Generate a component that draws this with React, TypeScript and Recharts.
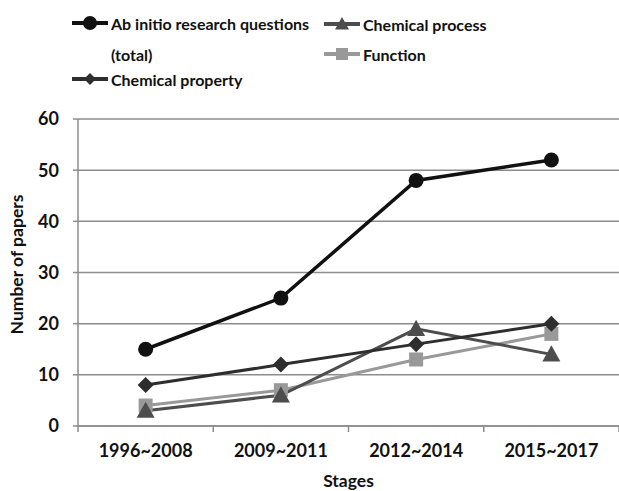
import React from 'react';
import { LineChart, Line, XAxis, YAxis, CartesianGrid, Legend } from 'recharts';

const stages = ['1996~2008', '2009~2011', '2012~2014', '2015~2017'];
const totalQuestions = [15, 25, 48, 52];
const chemicalProperty = [8, 12, 16, 20];
const chemicalProcess = [3, 6, 19, 14];
const functionSeries = [4, 7, 13, 18];
const yTicks = [0, 10, 20, 30, 40, 50, 60];

const data = stages.map((s, i) => ({
  pos: i + 0.5,
  stage: s,
  total: totalQuestions[i],
  property: chemicalProperty[i],
  process: chemicalProcess[i],
  func: functionSeries[i],
}));

const FONT = 'Lato, "Open Sans", sans-serif';
const GRID = '#8c8c8c';

const C_TOTAL = '#111111';
const C_PROP = '#2e2e2e';
const C_PROC = '#4d4d4d';
const C_FUNC = '#999999';

type Shape = 'circle' | 'diamond' | 'triangle' | 'square';

function markerEl(shape: Shape, cx: number, cy: number, color: string, s: number, key?: any) {
  if (shape === 'circle') return <circle key={key} cx={cx} cy={cy} r={s} fill={color} />;
  if (shape === 'diamond')
    return <polygon key={key} points={`${cx},${cy - s} ${cx + s},${cy} ${cx},${cy + s} ${cx - s},${cy}`} fill={color} />;
  if (shape === 'triangle')
    return <polygon key={key} points={`${cx},${cy - s} ${cx + s},${cy + s * 0.8} ${cx - s},${cy + s * 0.8}`} fill={color} />;
  return <rect key={key} x={cx - s} y={cy - s} width={2 * s} height={2 * s} fill={color} />;
}

const makeDot = (shape: Shape, color: string, s: number) => (props: any) =>
  markerEl(shape, props.cx, props.cy, color, s, `${shape}-${props.index}`);

const XTick = (props: any) => {
  const { x, y, payload } = props;
  const v = payload.value as number;
  if (Number.isInteger(v)) {
    return <line x1={x} x2={x} y1={y} y2={y + 6} stroke={GRID} strokeWidth={1.5} />;
  }
  const label = stages[Math.floor(v)];
  return (
    <text x={x} y={y + 24} textAnchor="middle" dominantBaseline="central" fontFamily={FONT} fontWeight={700} fontSize={18} fill="#111">
      {label}
    </text>
  );
};

const legendItems: { name: string; name2?: string; shape: Shape; color: string; x: number; y: number; s: number }[] = [
  { name: 'Ab initio research questions', name2: '(total)', shape: 'circle', color: C_TOTAL, x: 72, y: 23, s: 7 },
  { name: 'Chemical property', shape: 'diamond', color: C_PROP, x: 72, y: 79, s: 6 },
  { name: 'Chemical process', shape: 'triangle', color: C_PROC, x: 324, y: 24, s: 7 },
  { name: 'Function', shape: 'square', color: C_FUNC, x: 324, y: 54, s: 6 },
];

const LegendContent = () => (
  <svg width={619} height={100} style={{ display: 'block' }}>
    {legendItems.map((it, i) => (
      <g key={i}>
        <line x1={it.x} x2={it.x + 36} y1={it.y} y2={it.y} stroke={it.color} strokeWidth={4} />
        {markerEl(it.shape, it.x + 18, it.y, it.color, it.s)}
        <text x={it.x + 39} y={it.y} dominantBaseline="central" fontFamily={FONT} fontWeight={700} fontSize={16} fill="#111">
          {it.name}
        </text>
        {it.name2 && (
          <text x={it.x + 39} y={it.y + 31} dominantBaseline="central" fontFamily={FONT} fontWeight={700} fontSize={16} fill="#111">
            {it.name2}
          </text>
        )}
      </g>
    ))}
  </svg>
);

const YLabel = (props: any) => {
  const vb = props.viewBox || {};
  const cx = 16;
  const cy = (vb.y ?? 119) + (vb.height ?? 307) / 2 - 8;
  return (
    <text x={cx} y={cy} transform={`rotate(-90, ${cx}, ${cy})`} textAnchor="middle" dominantBaseline="central" fontFamily={FONT} fontWeight={700} fontSize={17.5} fill="#111">
      Number of papers
    </text>
  );
};

const XLabel = (props: any) => {
  const vb = props.viewBox || {};
  const cx = (vb.x ?? 78) + (vb.width ?? 541) / 2;
  return (
    <text x={cx} y={480} textAnchor="middle" dominantBaseline="central" fontFamily={FONT} fontWeight={700} fontSize={17.5} fill="#111">
      Stages
    </text>
  );
};

export default function App() {
  return (
    <div style={{ position: 'absolute', left: 0, top: 0 }}>
      <LineChart width={619} height={491} data={data} margin={{ top: 119, right: 0, bottom: 0, left: 0 }}>
        <CartesianGrid horizontal vertical={false} stroke={GRID} strokeWidth={1.5} />
        <XAxis
          dataKey="pos"
          type="number"
          domain={[0, 4]}
          ticks={[0, 0.5, 1, 1.5, 2, 2.5, 3, 3.5, 4]}
          interval={0}
          tick={<XTick />}
          tickLine={false}
          tickSize={0}
          tickMargin={0}
          axisLine={{ stroke: GRID, strokeWidth: 1.5 }}
          height={65}
          label={<XLabel />}
        />
        <YAxis
          domain={[0, 60]}
          ticks={yTicks}
          interval={0}
          width={78}
          tickSize={5}
          tickMargin={14}
          tickLine={{ stroke: GRID, strokeWidth: 1.5 }}
          axisLine={{ stroke: GRID, strokeWidth: 1.5 }}
          tick={{ fontFamily: FONT, fontWeight: 700, fontSize: 18, fill: '#111' }}
          label={<YLabel />}
        />
        <Legend
          layout="horizontal"
          verticalAlign="middle"
          align="center"
          content={<LegendContent />}
          wrapperStyle={{ position: 'absolute', top: 0, left: 0, width: 619, height: 100 }}
        />
        <Line dataKey="func" stroke={C_FUNC} strokeWidth={3} dot={makeDot('square', C_FUNC, 7)} isAnimationActive={false} />
        <Line dataKey="process" stroke={C_PROC} strokeWidth={3} dot={makeDot('triangle', C_PROC, 9)} isAnimationActive={false} />
        <Line dataKey="property" stroke={C_PROP} strokeWidth={3} dot={makeDot('diamond', C_PROP, 8)} isAnimationActive={false} />
        <Line dataKey="total" stroke={C_TOTAL} strokeWidth={3.5} dot={makeDot('circle', C_TOTAL, 7.5)} isAnimationActive={false} />
      </LineChart>
    </div>
  );
}
